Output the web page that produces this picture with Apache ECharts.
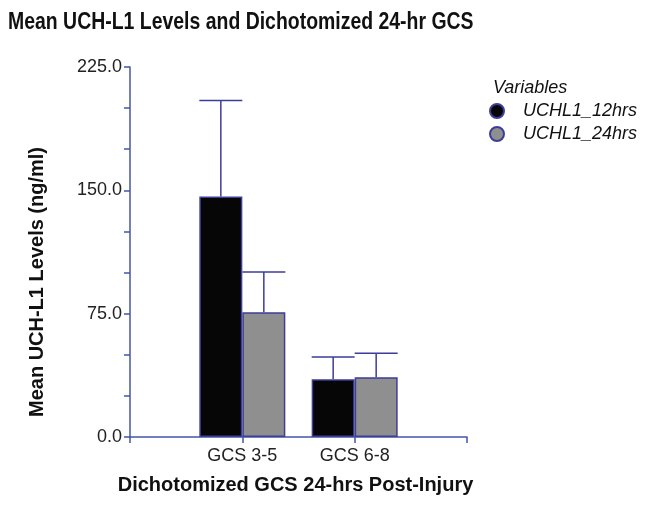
<!DOCTYPE html>
<html>
<head>
<meta charset="utf-8">
<script src="https://cdn.jsdelivr.net/npm/echarts@6/dist/echarts.min.js"></script>
<style>
	html, body { margin: 0; padding: 0; background: #fff; }
	#chart { width: 650px; height: 509px; }
</style>
</head>
<body>
<div id="chart"></div>
<script>
// groups on the x axis
const groups = ['GCS 3-5', 'GCS 6-8']
// mean levels (ng/ml)
const mean12hrs = [146.2, 35.1]
const mean24hrs = [75.8, 36.3]
// upper error (SEM) above each bar
const err12hrs = [58.4, 13.6]
const err24hrs = [24.6, 14.6]
const yTicks = [0, 75, 150, 225]

// pad the axis so the groups sit at 1/3 and 2/3 of its length
const cats = [''].concat(groups, [''])
const pad = (arr) => [null].concat(arr, [null])

const blue = '#3d3d9a'
const axisBlue = '#4455aa'
const barW = 43
const font = 'Liberation Sans, Arial'

const chart = echarts.init(document.getElementById('chart'))

function errorSeries(name, means, errs, offset) {
	const data = means.map((m, i) => [i + 1, m, m + errs[i]])
	return {
		name: name + '_err',
		type: 'custom',
		z: 1,
		silent: true,
		renderItem: function (params, api) {
			const base = api.coord([api.value(0), api.value(1)])
			const top = api.coord([api.value(0), api.value(2)])
			const x = base[0] + offset
			const half = barW / 2
			return {
				type: 'group',
				children: [
					{
						type: 'line',
						shape: { x1: x, y1: base[1], x2: x, y2: top[1] },
						style: { stroke: blue, lineWidth: 1.5 },
					},
					{
						type: 'line',
						shape: { x1: x - half, y1: top[1], x2: x + half, y2: top[1] },
						style: { stroke: blue, lineWidth: 1.5 },
					},
				],
			}
		},
		data: data,
	}
}

const options = {
	animation: false,
	title: {
		text: 'Variables',
		left: 488,
		top: 74,
		textStyle: {
			fontFamily: font,
			fontStyle: 'italic',
			fontWeight: 'normal',
			fontSize: 18,
			color: '#111',
		},
	},
	graphic: [
		{
			// condensed bold title
			type: 'text',
			x: 8,
			y: 10,
			scaleX: 0.81,
			style: {
				text: 'Mean UCH-L1 Levels and Dichotomized 24-hr GCS',
				font: 'bold 24px ' + font,
				fill: '#111',
				textVerticalAlign: 'top',
			},
		},
		{
			type: 'text',
			x: 37,
			y: 282,
			rotation: Math.PI / 2,
			style: {
				text: 'Mean UCH-L1 Levels (ng/ml)',
				font: 'bold 20px ' + font,
				fill: '#111',
				textAlign: 'center',
				textVerticalAlign: 'middle',
			},
		},
	],
	legend: {
		data: ['UCHL1_12hrs', 'UCHL1_24hrs'],
		orient: 'vertical',
		left: 484,
		top: 97,
		icon: 'circle',
		itemWidth: 14,
		itemHeight: 14,
		itemGap: 5,
		textStyle: {
			fontFamily: font,
			fontStyle: 'italic',
			fontSize: 18,
			color: '#111',
			padding: [0, 0, 0, 14],
		},
	},
	grid: {
		left: 130,
		right: 183,
		top: 67,
		bottom: 72,
	},
	xAxis: {
		type: 'category',
		data: cats,
		boundaryGap: false,
		name: 'Dichotomized GCS 24-hrs Post-Injury',
		nameLocation: 'middle',
		nameGap: 38,
		nameTextStyle: {
			fontFamily: font,
			fontWeight: 'bold',
			fontSize: 20,
			color: '#111',
			padding: [0, 0, 0, -6],
		},
		axisLine: { lineStyle: { color: axisBlue, width: 1.5 } },
		axisTick: { show: true, length: 6, lineStyle: { color: axisBlue, width: 1.5 } },
		axisLabel: {
			fontFamily: font,
			fontSize: 18,
			color: '#222',
			margin: 10,
		},
	},
	yAxis: {
		type: 'value',
		min: yTicks[0],
		max: yTicks[yTicks.length - 1],
		interval: 75,
		axisLine: { show: true, lineStyle: { color: axisBlue, width: 1.5 } },
		axisTick: { show: true, length: 6, lineStyle: { color: axisBlue, width: 1.5 } },
		minorTick: { show: true, splitNumber: 3, length: 6, lineStyle: { color: axisBlue, width: 1.5 } },
		splitLine: { show: false },
		axisLabel: {
			fontFamily: font,
			fontSize: 18,
			color: '#222',
			margin: 8,
			formatter: (v) => v.toFixed(1),
		},
	},
	series: [
		{
			name: 'UCHL1_12hrs',
			type: 'bar',
			barWidth: barW,
			barGap: '0%',
			z: 2,
			itemStyle: { color: '#060606', borderColor: blue, borderWidth: 1.5 },
			data: pad(mean12hrs),
		},
		{
			name: 'UCHL1_24hrs',
			type: 'bar',
			barWidth: barW,
			barGap: '0%',
			z: 2,
			itemStyle: { color: '#8f8f8f', borderColor: blue, borderWidth: 1.5 },
			data: pad(mean24hrs),
		},
		errorSeries('UCHL1_12hrs', mean12hrs, err12hrs, -barW / 2),
		errorSeries('UCHL1_24hrs', mean24hrs, err24hrs, barW / 2),
	],
}

chart.setOption(options)
</script>
</body>
</html>
